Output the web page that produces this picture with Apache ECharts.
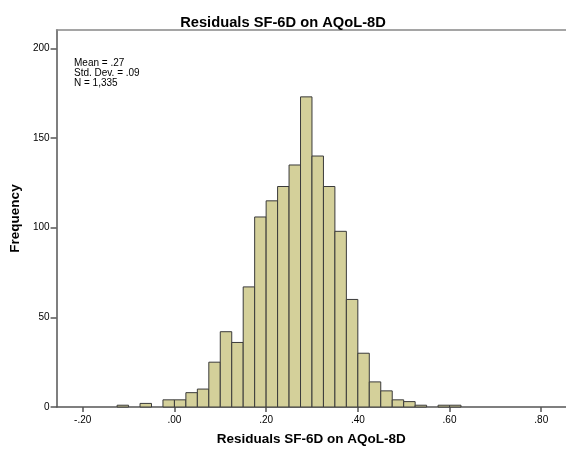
<!DOCTYPE html>
<html>
<head>
<meta charset="utf-8">
<script src="https://cdn.jsdelivr.net/npm/echarts@6/dist/echarts.min.js"></script>
<style>html,body{margin:0;padding:0;background:#fff;}#c{width:566px;height:451px;}</style>
</head>
<body>
<div id="c"></div>
<script>
const binStarts = [-0.125,-0.1,-0.075,-0.05,-0.025,0,0.025,0.05,0.075,0.1,0.125,0.15,0.175,0.2,0.225,0.25,0.275,0.3,0.325,0.35,0.375,0.4,0.425,0.45,0.475,0.5,0.525,0.55,0.575,0.6];
const counts    = [1,0,2,0,4,4,8,10,25,42,36,67,106,115,123,135,173,140,123,98,60,30,14,9,4,3,1,0,1,1];
const binWidth = 0.025;
const xTicks = [-0.2,0,0.2,0.4,0.6,0.8];
const yTicks = [0,50,100,150,200];
const statsLines = ['Mean = .27','Std. Dev. = .09','N = 1,335'];
const titleText = 'Residuals SF-6D on AQoL-8D';

const data = binStarts.map((s,i)=>[s, counts[i]]);
const font = '"Liberation Sans", Arial, sans-serif';
function fmtX(v){
  const s = Math.abs(v).toFixed(2).replace(/^0/,'');
  return (v < -1e-9 ? '-' : '') + s;
}

const chart = echarts.init(document.getElementById('c'), null, {renderer:'canvas'});
chart.setOption({
  animation:false,
  backgroundColor:'#fff',
  title:{text:titleText,left:'center',top:10,
    textStyle:{fontFamily:font,fontSize:14.7,fontWeight:'bold',color:'#000'}},
  grid:{left:55,right:0,top:30,bottom:43.5,containLabel:false},
  xAxis:[{
    type:'value',min:-0.257,max:0.854,position:'bottom',
    name:'Residuals SF-6D on AQoL-8D',nameLocation:'middle',nameGap:25,
    nameTextStyle:{fontFamily:font,fontSize:13.5,fontWeight:'bold',color:'#000'},
    axisLine:{show:true,onZero:false,lineStyle:{color:'#555',width:1.5}},
    axisTick:{show:true,length:5,customValues:xTicks,lineStyle:{color:'#555',width:1.5}},
    axisLabel:{customValues:xTicks,formatter:fmtX,margin:8,fontFamily:font,fontSize:10,color:'#000'},
    splitLine:{show:false}
  },{
    type:'value',min:-0.257,max:0.854,position:'top',
    axisLine:{show:true,onZero:false,lineStyle:{color:'#888',width:1.5}},
    axisTick:{show:false},axisLabel:{show:false},splitLine:{show:false}
  }],
  yAxis:{
    type:'value',min:0,max:210.3,position:'left',
    name:'Frequency',nameLocation:'middle',nameGap:31,nameRotate:90,
    nameTextStyle:{fontFamily:font,fontSize:13.5,fontWeight:'bold',color:'#000'},
    axisLine:{show:true,onZero:false,lineStyle:{color:'#555',width:1.5}},
    axisTick:{show:true,length:6,customValues:yTicks,lineStyle:{color:'#555',width:1.5}},
    axisLabel:{customValues:yTicks,margin:7,fontFamily:font,fontSize:10,color:'#000'},
    splitLine:{show:false}
  },
  graphic:[{
    type:'text',left:74,top:58,
    style:{text:statsLines.join('\n'),font:'10px '+font,lineHeight:10,fill:'#000'}
  }],
  series:[{
    type:'custom',
    xAxisIndex:0,
    data:data,
    renderItem:function(params,api){
      const s = api.value(0), c = api.value(1);
      if (!c) return null;
      const p1 = api.coord([s, c]);
      const p2 = api.coord([s+binWidth, 0]);
      return {type:'rect',shape:{x:p1[0],y:p1[1],width:p2[0]-p1[0],height:p2[1]-p1[1]},
        style:{fill:'#d4d09a',stroke:'#3a3a3a',lineWidth:1}};
    }
  }]
});
</script>
</body>
</html>
